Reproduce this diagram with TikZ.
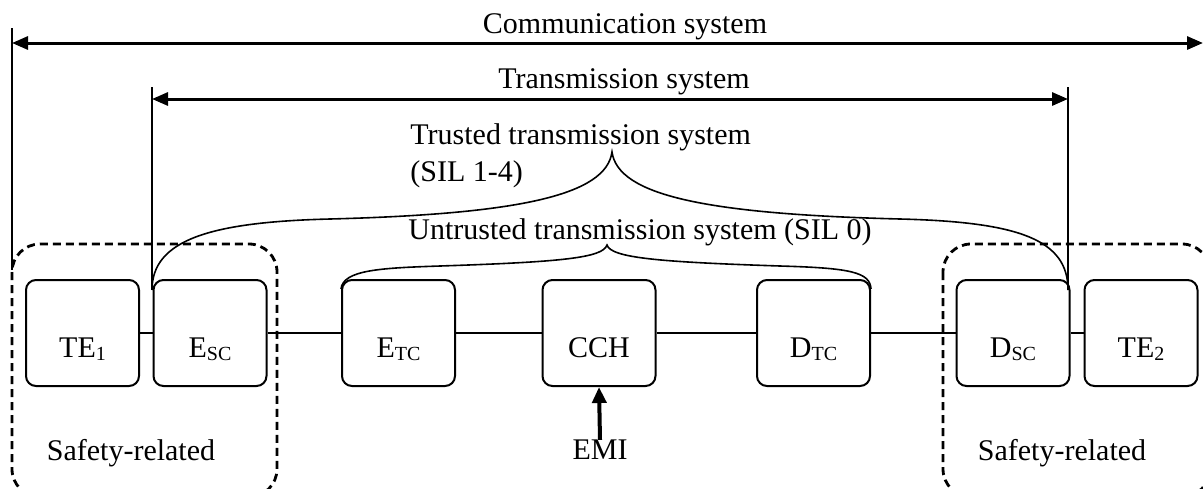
\documentclass[tikz,border=0pt]{standalone}
\usepackage{fontspec}
\setmainfont{Liberation Serif}
\usepackage{tikz}
\usetikzlibrary{arrows.meta, positioning}

\newcommand{\boxsub}[1]{\raisebox{-1.5pt}{\fontsize{10}{12}\selectfont #1}}

\begin{document}
\begin{tikzpicture}[
    x=0.5pt, y=-0.5pt,
    font=\fontsize{15}{18.5}\selectfont,
    unit/.style={
        rectangle,
        draw,
        line width=1pt,
        rounded corners=5pt,
        minimum width=56.5pt,
        minimum height=53pt,
        inner sep=0pt,
        text height=26pt,
        text depth=2pt
    },
    group/.style={
        draw,
        line width=1.4pt,
        dash pattern=on 4pt off 2.5pt,
        rounded corners=14pt
    },
    dimline/.style={
        line width=1.5pt,
        {Triangle[length=8pt, width=6.5pt]}-{Triangle[length=8pt, width=6.5pt]}
    },
    tick/.style={
        line width=1pt
    },
    brace/.style={
        line width=0.8pt
    },
    link/.style={
        line width=0.8pt
    },
    emi/.style={
        line width=2pt,
        -{Triangle[length=8pt, width=7pt]}
    },
    txt/.style={
        inner sep=0pt
    }
]
    \clip (0,0) rectangle (1203,488);

    % Safety-related groups
    \draw [group] (12,244) rectangle (277,497);
    \draw [group] (943,244) rectangle (1210,497);

    % Units
    \node [unit] (te1) at (82.5,333) {TE\boxsub{1}};
    \node [unit] (esc) at (210,333) {E\boxsub{SC}};
    \node [unit] (etc) at (398.5,333) {E\boxsub{TC}};
    \node [unit] (cch) at (599,333) {CCH};
    \node [unit] (dtc) at (813.5,333) {D\boxsub{TC}};
    \node [unit] (dsc) at (1013,333) {D\boxsub{SC}};
    \node [unit] (te2) at (1141,333) {TE\boxsub{2}};

    \draw [link] (te1.east) -- (esc.west);
    \draw [link] (esc.east) -- (etc.west);
    \draw [link] (etc.east) -- (cch.west);
    \draw [link] (cch.east) -- (dtc.west);
    \draw [link] (dtc.east) -- (dsc.west);
    \draw [link] (dsc.east) -- (te2.west);

    % Labels
    \node [txt] (comm) at (625,27) {Communication system};
    \node [txt] (trans) at (624,82) {Transmission system};
    \node [txt, anchor=west, align=left] (trusted) at (410,156) {Trusted transmission system\\(SIL 1-4)};
    \node [txt] (untrusted) at (640,232) {Untrusted transmission system (SIL 0)};
    \node [txt] (safeA) at (131,453) {Safety-related};
    \node [txt] (safeB) at (1062,453) {Safety-related};
    \node [txt] (emi) at (600,450) {EMI};

    % Communication system span
    \coordinate (comTop) at (12,28);
    \coordinate (comBot) at (12,270);
    \coordinate (comL) at (12,43);
    \coordinate (comR) at (1203,43);
    \draw [tick] (comTop) -- (comBot);
    \draw [dimline] (comL) -- (comR);

    % Transmission system span
    \coordinate (trTopL) at (152,87);
    \coordinate (trBotL) at (152,290);
    \coordinate (trTopR) at (1068,87);
    \coordinate (trBotR) at (1068,290);
    \coordinate (trL) at (152,99);
    \coordinate (trR) at (1068,99);
    \draw [tick] (trTopL) -- (trBotL);
    \draw [tick] (trTopR) -- (trBotR);
    \draw [dimline] (trL) -- (trR);

    % Braces
    \draw [brace] (trBotL) .. controls (152,240) and (210,222) .. (330,219)
        .. controls (520,214) and (606,195) .. (612,152)
        .. controls (618,195) and (704,214) .. (900,219)
        .. controls (1020,222) and (1068,240) .. (trBotR);
    \draw [brace] ([yshift=-5pt]etc.north west) .. controls (343,270) and (380,268) .. (440,266)
        .. controls (560,262) and (603,258) .. (607,245)
        .. controls (611,258) and (660,262) .. (780,266)
        .. controls (850,268) and (870,272) .. ([yshift=-5pt]dtc.north east);

    % Interference
    \draw [emi] (emi.north) -- (cch.south);

\end{tikzpicture}
\end{document}
